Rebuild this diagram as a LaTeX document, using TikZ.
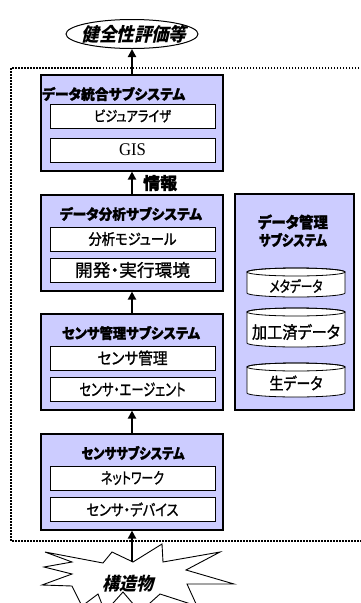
\documentclass[tikz,border=0pt]{standalone}
\usepackage{fontspec}
\setmainfont{Liberation Serif}
\newfontfamily\jp[RawFeature=+palt,FakeBold=1.2]{Noto Sans CJK JP}
\newfontfamily\jpb[RawFeature=+palt,FakeBold=1.5]{Noto Sans CJK JP}
\newfontfamily\jpsl[FakeSlant=0.25,RawFeature=+palt]{Noto Sans CJK JP}
\usetikzlibrary{shapes.geometric,arrows.meta}
\definecolor{lav}{RGB}{204,204,255}
\newcommand{\fsz}[1]{\fontsize{#1}{#1}\selectfont}
\newcommand{\fit}[3]{\resizebox*{#1pt}{#2pt}{#3}}
\begin{document}
\begin{tikzpicture}[x=1pt,y=-1pt,
 sysbox/.style={draw, line width=1.2pt, fill=lav, minimum width=182pt, minimum height=96pt, inner sep=0pt},
 inbox/.style={draw, line width=0.8pt, fill=white, minimum width=165pt, minimum height=24pt, inner sep=0pt},
 ttl/.style={font=\jpb\bfseries\fsz{13}, inner sep=0pt},
 lbl/.style={font=\jp\fsz{12}, inner sep=0pt},
 arr/.style={line width=2pt, -{Triangle[length=8pt,width=8pt]}},
 cyl/.style={draw, line width=0.8pt, fill=white},
]
\useasboundingbox (0,0) rectangle (360,603);

% dotted frame
\draw[line width=1.5pt, dash pattern=on 1.5pt off 1.5pt] (365,68) -- (11,68) -- (11,541) -- (365,541);

% goal ellipse
\node[ellipse, draw, line width=1pt, fill=white, minimum width=132pt, minimum height=29pt, inner sep=0pt] (goal) at (132,34) {};
\node[font=\jpsl\bfseries\fsz{17}, inner sep=0pt] (goaltxt) at (134,34) {\fit{105}{18}{健全性評価等}};

% system boxes
\node[sysbox] (s1) at (132,123) {};
\node[sysbox] (s2) at (132,243) {};
\node[sysbox] (s3) at (132,362) {};
\node[sysbox] (s4) at (132,482) {};

% box 1
\node[ttl, anchor=west] (t1) at (42,94) {\fit{143}{14}{データ統合サブシステム}};
\node[inbox] (v1) at (132.5,116) {};
\node[lbl] (v1t) at (v1) {\fit{77}{13}{ビジュアライザ}};
\node[inbox] (g1) at (132.5,150) {};
\node[font=\fsz{15}, inner sep=0pt] (g1t) at (g1) {\fit{27}{12}{GIS}};

% box 2
\node[ttl] (t2) at (131,214) {\fit{142}{14}{データ分析サブシステム}};
\node[inbox] (a2) at (132.5,239) {};
\node[lbl] (a2t) at (a2) {\fit{88}{14}{分析モジュール}};
\node[inbox] (b2) at (132.5,270) {};
\node[lbl] (b2t) at (b2) {\fit{115}{16}{開発・実行環境}};

% box 3
\node[ttl] (t3) at (131,333) {\fit{138}{14}{センサ管理サブシステム}};
\node[inbox] (a3) at (132.5,358) {};
\node[lbl] (a3t) at (a3) {\fit{70}{15}{センサ管理}};
\node[inbox] (b3) at (132.5,389.5) {};
\node[lbl] (b3t) at (b3) {\fit{106}{14}{センサ・エージェント}};

% box 4
\node[ttl] (t4) at (133,453) {\fit{103}{14}{センササブシステム}};
\node[inbox] (a4) at (132.5,478) {};
\node[lbl] (a4t) at (a4) {\fit{63}{14}{ネットワーク}};
\node[inbox] (b4) at (132.5,509.5) {};
\node[lbl] (b4t) at (b4) {\fit{92}{14}{センサ・デバイス}};

% data management box
\node[draw, line width=1.2pt, fill=lav, minimum width=119pt, minimum height=216pt, inner sep=0pt] (dm) at (294.5,302) {};
\node[ttl] (dmt1) at (293,222) {\fit{70}{15}{データ管理}};
\node[ttl] (dmt2) at (293,240) {\fit{68}{14}{サブシステム}};

% cylinders
\foreach \t/\b in {268/297, 308/347, 363/397}{
  \path[cyl] (247,\t+4) -- (247,\b-4) arc (180:0:49 and 4) -- (345,\t+4) arc (360:180:49 and 4) -- cycle;
  \draw[line width=0.8pt] (296,\t+4) ellipse (49 and 4);
}
\node[lbl] (c1) at (296,286) {\fit{53}{14}{メタデータ}};
\node[lbl] (c2) at (296,332) {\fit{88}{16}{加工済データ}};
\node[lbl] (c3) at (296,383) {\fit{53}{15}{生データ}};

% starburst
\draw[line width=0.9pt, fill=white] (45,552) -- (103,563) -- (112,552) -- (133,562) -- (162,544) -- (163,562) -- (220,552) -- (186,570) -- (234,584) -- (187,584) -- (197,606) -- (160,594) -- (140,612) -- (123,592) -- (105,612) -- (98,594) -- (82,606) -- (72,586) -- (42,585) -- (72,574) -- (44,567) -- (72,562) -- cycle;
\coordinate (burst) at (132,562);
\node[font=\jpsl\bfseries\fsz{17}, inner sep=0pt] (str) at (128,584) {\fit{51}{17}{構造物}};

% arrows
\draw[arr] (burst) -- (s4.south);
\draw[arr] (s4.north) -- (s3.south);
\draw[arr] (s3.north) -- (s2.south);
\draw[arr] (s2.north) -- (s1.south);
\draw[arr] (s1.north) -- (goal.south);
\node[font=\jpb\bfseries\fsz{16}, inner sep=0pt, anchor=west] (info) at (143,183) {\fit{34}{16}{情報}};
\end{tikzpicture}
\end{document}
